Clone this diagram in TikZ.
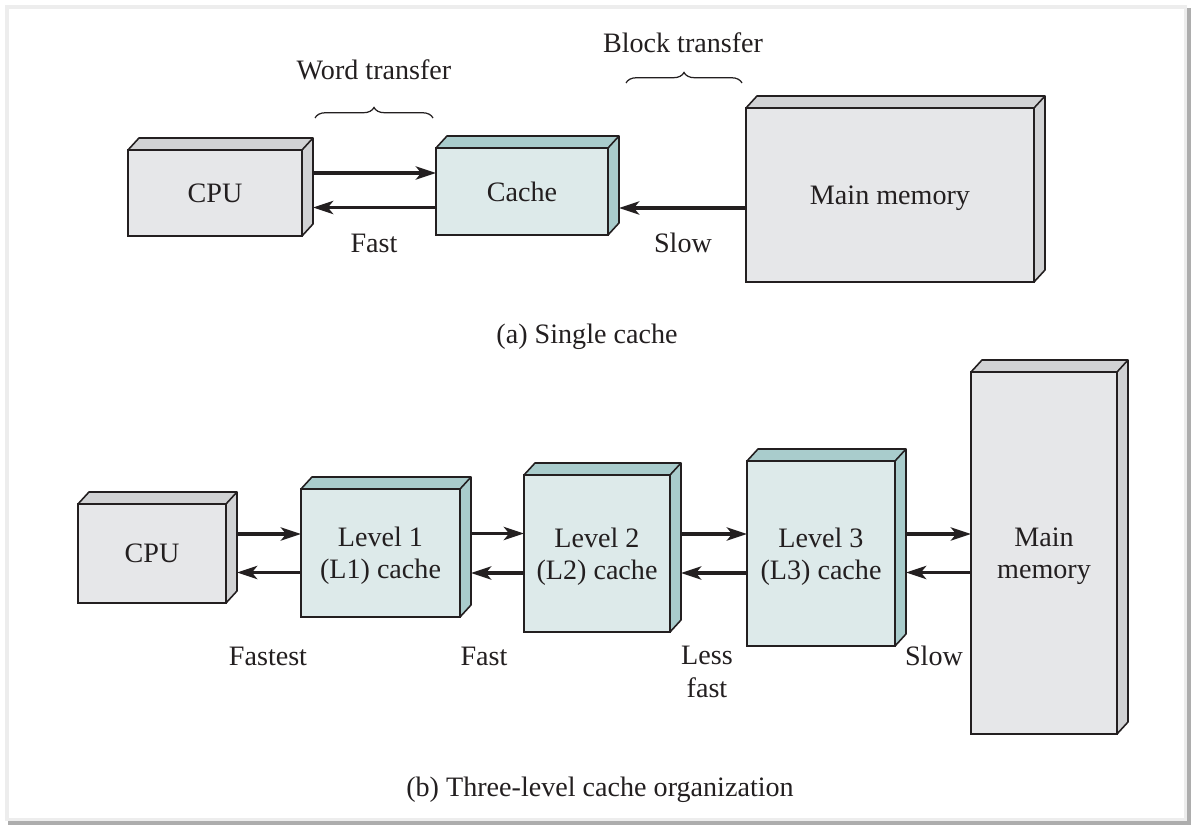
\documentclass[tikz,border=0pt]{standalone}
\usepackage{fontspec}
\setmainfont{Liberation Serif}
\usepackage{tikz}
\usetikzlibrary{positioning,arrows.meta,decorations.pathreplacing}

\definecolor{ink}{HTML}{231F20}
\definecolor{gfront}{HTML}{E6E7E9}
\definecolor{gside}{HTML}{D1D2D4}
\definecolor{tfront}{HTML}{DDEAEA}
\definecolor{tside}{HTML}{A9CCCC}
\newcommand\pxu{0.02cm}

\begin{document}
\begin{tikzpicture}[
	x=0.02cm, y=-0.02cm
	,every node/.append style={font=\fontsize{16}{18.3}\selectfont, text=ink}
	,sz/.style 2 args={minimum width=#1*\pxu, minimum height=#2*\pxu}
	,g/.style={draw=ink, line width=0.9pt, fill=gfront, inner sep=0, outer sep=0, align=center, text depth=0pt}
	,t/.style={g, fill=tfront}
	,face/.style={draw=ink, line width=0.9pt, line join=round}
	,arr/.style={draw=ink, line width=1.8pt, -{Stealth[length=11.5pt, width=7.5pt, inset=3pt]}}
	,brc/.style={draw=ink, line width=0.7pt, decorate, decoration={brace, amplitude=6pt}}
	,lbl/.style={align=center, inner sep=1pt}
]
	\useasboundingbox (0,0) rectangle (1199,834);
	% frame
	\fill [black!32] (8,8) rectangle (1191,825);
	\fill [black!7] (5,5) rectangle (1187,821);
	\fill [white] (9,9) rectangle (1184,818);

	% (a) single cache
	\node [g, sz={174}{86}] (cpuA) at (215,193) {CPU};
	\node [t, sz={172}{87}] (cacheA) at (522,191.5) {Cache};
	\node [g, sz={288}{174}] (memA) at (890,195) {Main memory};

	% (b) three levels
	\node [g, sz={148}{99}] (cpuB) at (152,553.5) {CPU};
	\node [t, sz={159}{128}] (l1) at (380.5,553) {Level 1\\(L1) cache};
	\node [t, sz={146}{157}] (l2) at (597,553.5) {Level 2\\(L2) cache};
	\node [t, sz={148}{185}] (l3) at (821,553.5) {Level 3\\(L3) cache};
	\node [g, sz={146}{362}] (memB) at (1044,553) {Main\\memory};

	% top and side faces
	\foreach \n/\c in {cpuA/gside, cacheA/tside, memA/gside, cpuB/gside,
		l1/tside, l2/tside, l3/tside, memB/gside} {
		\filldraw [face, fill=\c] (\n.north west) -- ++(11,-12)
			-| ([shift={(11,-12)}]\n.south east) -- (\n.south east)
			-- (\n.north east) -- cycle;
		\draw [face] (\n.north east) -- ++(11,-12);
		\coordinate (\n-r) at ([xshift=11*\pxu]\n.east);
	}

	% arrows (a)
	\draw [arr] ([yshift=20*\pxu]cpuA-r) coordinate (p1) -- (p1 -| cacheA.west);
	\draw [arr] ([yshift=-16*\pxu]cacheA.west) coordinate (p2) -- (p2 -| cpuA-r);
	\draw [arr] ([yshift=-13*\pxu]memA.west) coordinate (p3) -- (p3 -| cacheA-r);

	% arrows (b)
	\foreach \a/\b in {cpuB/l1, l1/l2, l2/l3, l3/memB} {
		\draw [arr] ([yshift=19.5*\pxu]\a-r) coordinate (q) -- (q -| \b.west);
		\draw [arr] ([yshift=-19.5*\pxu]\b.west) coordinate (q) -- (q -| \a-r);
	}

	% braces
	\coordinate (w1) at (315,118);
	\coordinate (w2) at (433,118);
	\coordinate (k1) at (626,83);
	\coordinate (k2) at (742,83);
	\draw [brc] (w1) -- (w2);
	\draw [brc] (k1) -- (k2);

	% labels
	\node [lbl] (word) at (374,70) {Word transfer};
	\node [lbl] (block) at (683,43) {Block transfer};
	\node [lbl] (fastA) at (374,243) {Fast};
	\node [lbl] (slowA) at (683,243) {Slow};
	\node [lbl] (capA) at (587,337) {(a) Single cache};
	\node [lbl] (fastest) at (268,656) {Fastest};
	\node [lbl] (fastB) at (484,656) {Fast};
	\node [lbl] (less) at (707,672) {Less\\fast};
	\node [lbl] (slowB) at (934,656) {Slow};
	\node [lbl] (capB) at (600,790) {(b) Three-level cache organization};
\end{tikzpicture}
\end{document}
